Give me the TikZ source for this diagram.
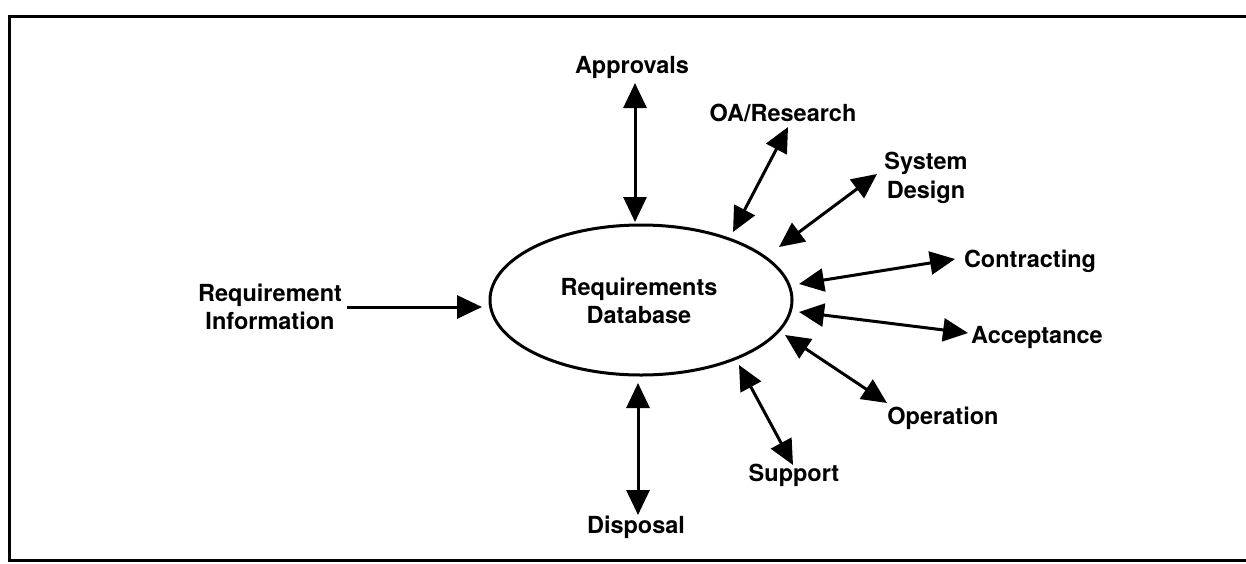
\documentclass[tikz,border=0pt]{standalone}
\usepackage{fontspec}
\setmainfont{TeX Gyre Heros}
\usetikzlibrary{arrows.meta,shapes.geometric}
\begin{document}
\begin{tikzpicture}[x=1pt,y=-1pt,
  lbl/.style={font=\bfseries\fontsize{23.5}{28.5}\selectfont, align=center, inner sep=0pt},
  link/.style={line width=3pt, {Triangle[length=25pt,width=23pt]}-{Triangle[length=25pt,width=23pt]}},
  onelink/.style={line width=3pt, -{Triangle[length=25pt,width=23pt]}},
  frame/.style={line width=3pt}]
\useasboundingbox (0,0) rectangle (1246,563);
\draw[frame] (1246,16) -- (9,16) -- (9,560) -- (1246,560);

\node[draw, ellipse, line width=3pt, minimum width=302pt, minimum height=150pt, inner sep=0pt] (db) at (641,300) {};
\node[lbl] (dbt) at (639,301) {Requirements\\Database};

\node[lbl] (req) at (270,307) {Requirement\\Information};
\node[lbl] (appr) at (632,67) {Approvals};
\node[lbl] (oa) at (783,113) {OA/Research};
\node[lbl] (sys) at (926,178) {System\\Design};
\node[lbl] (con) at (1030,261) {Contracting};
\node[lbl] (acc) at (1037,337) {Acceptance};
\node[lbl] (op) at (943,418) {Operation};
\node[lbl] (sup) at (794,475) {Support};
\node[lbl] (disp) at (636,527) {Disposal};

\coordinate (reqA) at (347,307); \coordinate (reqB) at (482,307);
\coordinate (apprA) at (635,83); \coordinate (apprB) at (635,222);
\coordinate (oaA) at (788,127); \coordinate (oaB) at (733,232);
\coordinate (sysA) at (877,174); \coordinate (sysB) at (779,247);
\coordinate (conA) at (955,259); \coordinate (conB) at (799,284);
\coordinate (accA) at (968,333); \coordinate (accB) at (799,312);
\coordinate (opA) at (887,403); \coordinate (opB) at (785,335);
\coordinate (supA) at (793,465); \coordinate (supB) at (739,365);
\coordinate (dispA) at (638,515); \coordinate (dispB) at (638,383);

\draw[onelink] (reqA) -- (reqB);
\draw[link] (apprA) -- (apprB);
\draw[link] (oaA) -- (oaB);
\draw[link] (sysA) -- (sysB);
\draw[link] (conA) -- (conB);
\draw[link] (accA) -- (accB);
\draw[link] (opA) -- (opB);
\draw[link] (supA) -- (supB);
\draw[link] (dispA) -- (dispB);
\end{tikzpicture}
\end{document}
